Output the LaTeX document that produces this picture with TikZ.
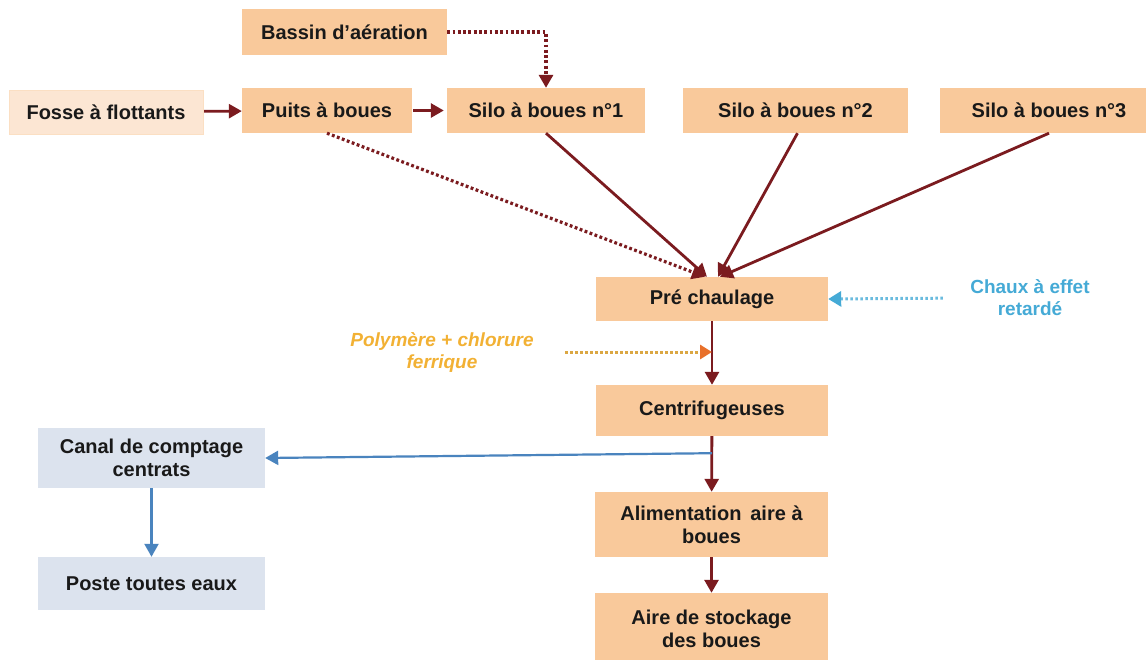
\documentclass[tikz,border=0pt]{standalone}
\usepackage{fontspec}
\setmainfont{Liberation Sans}
\usetikzlibrary{arrows.meta}
\usetikzlibrary{positioning}

\definecolor{peach}{HTML}{F9C99B}
\definecolor{peachlight}{HTML}{FCE6D3}
\definecolor{bluegrey}{HTML}{DCE3EE}
\definecolor{sludge}{HTML}{7B1B1F}
\definecolor{flowblue}{HTML}{4A84BE}
\definecolor{limeblue}{HTML}{45AAD6}
\definecolor{polygold}{HTML}{F2B134}
\definecolor{polytip}{HTML}{E8702A}

\begin{document}
\begin{tikzpicture}[x=1pt,y=-1pt,
    font=\fontsize{20}{23}\selectfont\bfseries,
    box/.style={fill=peach,inner sep=0pt,align=center,text=black!90},
    lightbox/.style={box,fill=peachlight,draw=peach!60},
    greybox/.style={box,fill=bluegrey},
    flow/.style={draw=sludge,line width=2.8pt,-{Triangle[length=13pt,width=14pt]}},
    dotflow/.style={flow,dash pattern=on 2.8pt off 2.5pt,line width=3.2pt},
    bluflow/.style={draw=flowblue,line width=2.2pt,-{Triangle[length=13pt,width=14pt]}},
    lineflow/.style={draw=limeblue!80,dash pattern=on 2.5pt off 2.5pt,line width=3pt,
        -{Triangle[length=13pt,width=15pt,color=limeblue]}},
    polyflow/.style={draw=polygold!80!gray,dash pattern=on 2.5pt off 2.5pt,line width=3pt,
        -{Triangle[length=12pt,width=14pt,color=polytip]}}]
    \useasboundingbox (0,0) rectangle (1146,659);
    \fill[white] (0,0) rectangle (1146,659);

    \node[box,minimum width=205pt,minimum height=46pt] (bassin) at (344.5,32) {Bassin d'aération};
    \node[lightbox,minimum width=194pt,minimum height=44pt] (fosse) at (106,112) {Fosse à flottants};
    \node[box,minimum width=170pt,minimum height=45pt] (puits) at (327,110.5) {Puits à boues};
    \node[box,minimum width=198pt,minimum height=45pt] (silo1) at (546,110.5) {Silo à boues n°1};
    \node[box,minimum width=225pt,minimum height=45pt] (silo2) at (795.5,110.5) {Silo à boues n°2};
    \node[box,minimum width=218pt,minimum height=45pt] (silo3) at (1049,110.5) {Silo à boues n°3};

    \node[box,minimum width=232pt,minimum height=44pt] (pre) at (712,299) {Pré chaulage};
    \node[text=limeblue,align=center,font=\fontsize{19}{22}\selectfont\bfseries] (chaux) at (1030,298) {Chaux à effet\\retardé};
    \node[text=polygold,align=center,font=\fontsize{19}{22}\selectfont\bfseries\itshape] (poly) at (442,352) {Polymère + chlorure\\ferrique};
    \node[box,minimum width=232pt,minimum height=51pt] (centri) at (712,410.5) {Centrifugeuses};
    \node[box,minimum width=233pt,minimum height=65pt] (alim) at (711.5,524.5) {Alimentation\, aire à\\boues};
    \node[box,minimum width=233pt,minimum height=72pt] (aire) at (711.5,629) {Aire de stockage\\des boues};

    \node[greybox,minimum width=227pt,minimum height=60pt] (canal) at (151.5,458) {Canal de comptage\\centrats};
    \node[greybox,minimum width=227pt,minimum height=53pt] (poste) at (151.5,583.5) {Poste toutes eaux};

    \draw[flow,shorten <=1pt] (fosse) -- (puits);
    \draw[flow,shorten <=1pt,shorten >=3pt] (puits) -- (silo1);
    \draw[dotflow] (bassin.east) -| (silo1.north);
    \draw[dotflow] (puits.south) -- ([xshift=-7pt]pre.north);
    \draw[flow] (silo1.south) -- ([xshift=-5pt]pre.north);
    \draw[flow] ([xshift=2pt]silo2.south) -- ([xshift=6pt]pre.north);
    \draw[flow] (silo3.south) -- ([xshift=8pt]pre.north);
    \draw[lineflow,shorten <=24pt] (chaux.west) -- (pre.east);
    \draw[flow] (pre) -- (centri);
    \draw[polyflow,shorten <=28pt] (poly.east) -- (poly.east -| pre.south);
    \draw[flow] (centri) -- (alim);
    \draw[flow] (alim) -- (aire);
    % centrats back to the channel
    \coordinate (tap) at ([yshift=-17pt]centri.south);
    \draw[bluflow] (tap) -- (canal.east);
    \draw[bluflow] (canal) -- (poste);
\end{tikzpicture}
\end{document}
